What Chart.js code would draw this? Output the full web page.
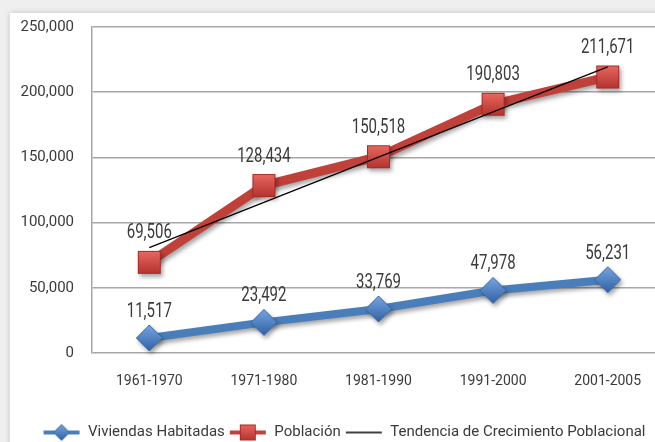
<!DOCTYPE html>
<html>
<head>
<meta charset="utf-8">
<script src="https://cdn.jsdelivr.net/npm/chart.js@4"></script>
<style>
  html, body { margin: 0; padding: 0; overflow: hidden; background: #fff; }
</style>
</head>
<body>
<canvas id="grafico" width="678" height="442"></canvas>
<script>
const periodos = ["1961-1970", "1971-1980", "1981-1990", "1991-2000", "2001-2005"];
const viviendas = [11517, 23492, 33769, 47978, 56231];
const poblacion = [69506, 128434, 150518, 190803, 211671];
// tendencia (linea negra)
const tendencia = [80800, 115500, 150200, 184900, 219500];
const yTicks = [0, 50000, 100000, 150000, 200000, 250000];

const FONT = "Roboto, sans-serif";
const AZUL = "#4a7ebb";
const ROJO = "#c0403a";
const TEXTO = "#3a3a3a";

function marcador(tipo, size) {
  const c = document.createElement("canvas");
  c.width = size; c.height = size;
  const g = c.getContext("2d");
  const grad = g.createLinearGradient(0, 0, 0, size);
  if (tipo === "rombo") {
    grad.addColorStop(0, "#7aa8e0");
    grad.addColorStop(1, "#2c5fa5");
    g.beginPath();
    g.moveTo(size / 2, 1); g.lineTo(size - 1, size / 2);
    g.lineTo(size / 2, size - 1); g.lineTo(1, size / 2);
    g.closePath();
    g.fillStyle = grad; g.fill();
    g.strokeStyle = "#3a6aa8"; g.lineWidth = 1; g.stroke();
  } else {
    grad.addColorStop(0, "#ea6a64");
    grad.addColorStop(1, "#b3302b");
    g.fillStyle = grad;
    g.fillRect(1, 1, size - 2, size - 2);
    g.strokeStyle = "#a82a25"; g.lineWidth = 1;
    g.strokeRect(1.5, 1.5, size - 3, size - 3);
  }
  return c;
}

function iconoLeyenda(color, ancho, tipo) {
  const c = document.createElement("canvas");
  c.width = 38; c.height = 20;
  const g = c.getContext("2d");
  g.strokeStyle = color; g.lineWidth = ancho;
  g.beginPath(); g.moveTo(1, 10); g.lineTo(37, 10); g.stroke();
  if (tipo) g.drawImage(marcador(tipo, 18), 10, 1);
  return c;
}

const sombra = {
  id: "sombra",
  beforeDatasetDraw(chart, args) {
    if (args.index === 2) return;
    const ctx = chart.ctx;
    ctx.save();
    ctx.shadowColor = "rgba(0,0,0,0.35)";
    ctx.shadowBlur = 4;
    ctx.shadowOffsetX = 2;
    ctx.shadowOffsetY = 3;
  },
  afterDatasetDraw(chart, args) {
    if (args.index === 2) return;
    chart.ctx.restore();
  }
};

const fondo = {
  id: "fondo",
  beforeDraw(chart) {
    const ctx = chart.ctx;
    ctx.save();
    ctx.fillStyle = "#efefef";
    ctx.fillRect(0, 0, chart.width, chart.height);
    ctx.shadowColor = "rgba(0,0,0,0.18)";
    ctx.shadowBlur = 6;
    ctx.fillStyle = "#fff";
    ctx.fillRect(10, 13, chart.width, chart.height);
    ctx.restore();
  }
};

// etiquetas de valor, algo estrechas como en el original
const etiquetas = {
  id: "etiquetas",
  afterDatasetsDraw(chart) {
    const ctx = chart.ctx;
    ctx.save();
    ctx.font = "20px " + FONT;
    ctx.fillStyle = TEXTO;
    ctx.textAlign = "center";
    ctx.textBaseline = "bottom";
    [0, 1].forEach((i) => {
      const meta = chart.getDatasetMeta(i);
      meta.data.forEach((p, j) => {
        const v = chart.data.datasets[i].data[j];
        ctx.save();
        ctx.translate(p.x, p.y - (i === 0 ? 16 : 19));
        ctx.scale(0.75, 1);
        ctx.fillText(v.toLocaleString("en-US"), 0, 0);
        ctx.restore();
      });
    });
    ctx.restore();
  }
};

const ctx = document.getElementById("grafico").getContext("2d");
const grafico = new Chart(ctx, {
  type: "line",
  data: {
    labels: periodos,
    datasets: [
      {
        label: "Viviendas Habitadas",
        data: viviendas,
        borderColor: AZUL,
        borderWidth: 8,
        pointStyle: marcador("rombo", 28),
        order: 1,
        clip: false,
      },
      {
        label: "Población",
        data: poblacion,
        borderColor: ROJO,
        borderWidth: 9,
        pointStyle: marcador("cuadro", 25),
        order: 2,
        clip: false,
      },
      {
        label: "Tendencia de Crecimiento Poblacional",
        data: tendencia,
        borderColor: "#000",
        borderWidth: 1.3,
        pointRadius: 0,
        order: 0,
      },
    ],
  },
  options: {
    responsive: false,
    animation: false,
    layout: { padding: { top: 18, left: 10, right: 0, bottom: -8 } },
    scales: {
      x: {
        offset: true,
        grid: { display: false },
        border: { display: false },
        ticks: { color: TEXTO, font: { family: FONT, size: 14 }, padding: 12 },
        afterFit: (s) => { s.height = 68; },
      },
      y: {
        min: 0,
        max: 250000,
        afterBuildTicks: (s) => { s.ticks = yTicks.map((v) => ({ value: v })); },
        grid: { color: "#a6a6a6", lineWidth: 1.5, drawTicks: false },
        border: { display: true, color: "#a6a6a6", width: 1.5 },
        ticks: {
          color: TEXTO,
          font: { family: FONT, size: 15 },
          padding: 18,
          callback: (v) => v.toLocaleString("en-US"),
        },
        afterFit: (s) => { s.width = 82; },
      },
    },
    plugins: {
      tooltip: { enabled: false },
      legend: {
        position: "bottom",
        labels: {
          color: TEXTO,
          font: { family: FONT, size: 15 },
          usePointStyle: true,
          pointStyleWidth: 38,
          padding: 4,
          generateLabels: (chart) => [
            { text: "Viviendas Habitadas", pointStyle: iconoLeyenda(AZUL, 4, "rombo"), datasetIndex: 0, fontColor: TEXTO, lineWidth: 0, strokeStyle: "transparent" },
            { text: "Población", pointStyle: iconoLeyenda(ROJO, 4, "cuadro"), datasetIndex: 1, fontColor: TEXTO, lineWidth: 0, strokeStyle: "transparent" },
            { text: "Tendencia de Crecimiento Poblacional", pointStyle: iconoLeyenda("#000", 1.3), datasetIndex: 2, fontColor: TEXTO, lineWidth: 0, strokeStyle: "transparent" },
          ],
        },
      },
    },
  },
  plugins: [fondo, sombra, etiquetas],
});
</script>
</body>
</html>
